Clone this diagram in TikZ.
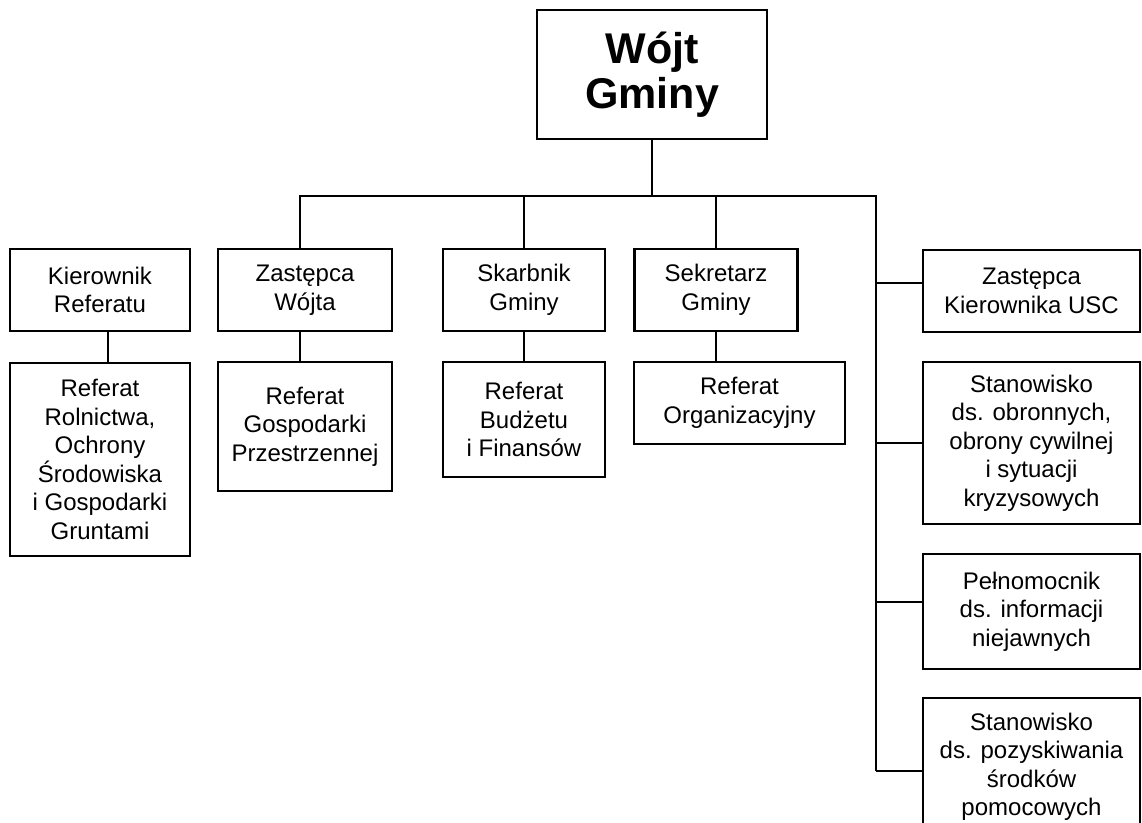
\documentclass[tikz,border=0pt]{standalone}
\usepackage{fontspec}
\setmainfont{Liberation Sans}
\begin{document}
\begin{tikzpicture}[x=1pt,y=-1pt,
  box/.style={draw,line width=2.2pt,inner sep=0pt,align=center,
    font=\fontsize{24}{28.5}\selectfont},
  conn/.style={line width=2.2pt}]
\useasboundingbox (0,0) rectangle (1142,822);
% top
\node[box,minimum width=230pt,minimum height=129pt,
  font=\fontsize{43}{45}\selectfont\bfseries] (wojt) at (652,74.5) {Wójt\\Gminy};
% columns
\node[box,minimum width=180pt,minimum height=82pt] (kier) at (100,290) {Kierownik\\Referatu};
\node[box,minimum width=180pt,minimum height=193pt] (refrol) at (100,459.5)
  {Referat\\Rolnictwa,\\Ochrony\\Środowiska\\i Gospodarki\\Gruntami};
\node[box,minimum width=174pt,minimum height=82pt] (zast) at (305,290) {Zastępca\\Wójta};
\node[box,minimum width=174pt,minimum height=129pt] (refgos) at (305,426.5)
  {Referat\\Gospodarki\\Przestrzennej};
\node[box,minimum width=162pt,minimum height=82pt] (skarb) at (524,290) {Skarbnik\\Gminy};
\node[box,minimum width=162pt,minimum height=115pt] (refbud) at (524,419.5)
  {Referat\\Budżetu\\i Finansów};
\node[box,minimum width=163pt,minimum height=82pt] (sekr) at (716,290) {Sekretarz\\Gminy};
\node[box,minimum width=211pt,minimum height=82pt] (reforg) at (739.5,403)
  {Referat\\Organizacyjny};
% right column
\node[box,minimum width=217pt,minimum height=82pt] (usc) at (1031.5,291)
  {Zastępca\\Kierownika USC};
\node[box,minimum width=217pt,minimum height=162pt] (obr) at (1031.5,443)
  {Stanowisko\\ds. obronnych,\\obrony cywilnej\\i sytuacji\\kryzysowych};
\node[box,minimum width=217pt,minimum height=138pt] (peln) at (1031.5,611.5)
  [minimum height=115pt] {Pełnomocnik\\ds. informacji\\niejawnych};
\node[box,minimum width=217pt,minimum height=138pt] (poz) at (1031.5,767)
  {Stanowisko\\ds. pozyskiwania\\środków\\pomocowych};
% bus coordinates
\coordinate (hub) at (652,196);
\coordinate (busL) at (300,196);
\coordinate (busR) at (876,196);
\coordinate (busB) at (876,771);
% connectors
\draw[conn] (wojt.south) -- (hub);
\draw[conn] ([xshift=-5pt]zast.north) -- (busL) -- (busR) -- (busB);
\draw[conn] (skarb.north) -- (skarb.north |- hub);
\draw[conn] (sekr.north) -- (sekr.north |- hub);
\draw[conn] ([xshift=8pt]kier.south) -- ([xshift=8pt]refrol.north);
\draw[conn] ([xshift=-5pt]zast.south) -- ([xshift=-5pt]refgos.north);
\draw[conn] (skarb.south) -- (refbud.north);
\draw[conn] (sekr.south) -- (sekr.south |- reforg.north);
\draw[conn] ([yshift=8pt]usc.west) -- ([yshift=8pt]usc.west -| busR);
\draw[conn] (obr.west) -- (obr.west -| busR);
\draw[conn] ([yshift=9.5pt]peln.west) -- ([yshift=9.5pt]peln.west -| busR);
\draw[conn] ([yshift=-4pt]poz.west) -- ([yshift=-4pt]poz.west -| busR);
\end{tikzpicture}
\end{document}
